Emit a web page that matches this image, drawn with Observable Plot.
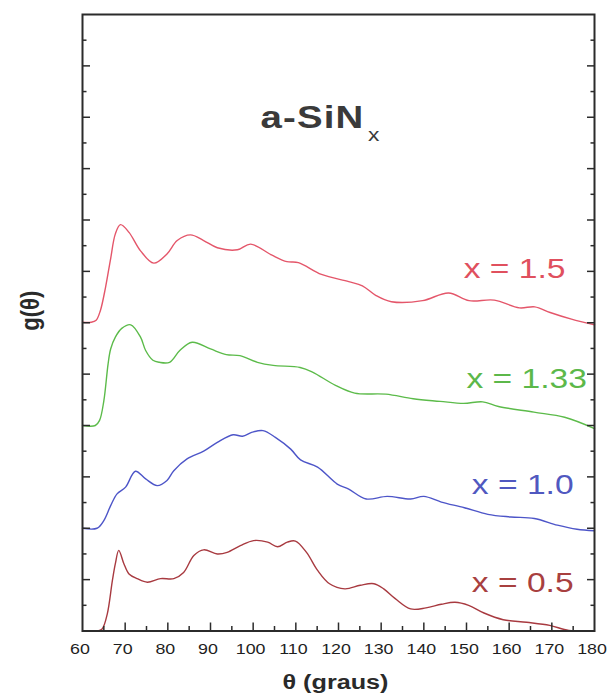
<!DOCTYPE html>
<html><head><meta charset="utf-8">
<script src="https://cdn.jsdelivr.net/npm/d3@7"></script>
<script src="https://cdn.jsdelivr.net/npm/@observablehq/plot@0.6"></script>
<style>
body{margin:0;background:#fff}
#chart svg{font-family:"Liberation Sans",Arial,Helvetica,sans-serif}
</style></head><body><div id="chart"></div>
<script>
// ---- data (stacked g(θ) curves, arbitrary units, each offset by its baseline) ----
const seriesNames = ["x = 1.5", "x = 1.33", "x = 1.0", "x = 0.5"];
const seriesColors = ["#e4566a", "#5cbb4a", "#4d55c8", "#a83a40"];
const labelColors  = ["#e0505e", "#5cb84a", "#5058c0", "#a8403f"];

const thetaRed = [60,62,63.2,64.2,65.4,66.6,67.7,68.9,70.9,73.6,76.7,79.8,82.2,85.3,88.4,91.6,96.3,99.4,104.3,107.9,110.6,116,122.4,125.6,128.8,132.4,139.7,145.8,150.6,156.5,162.4,166,169.6,174.6,180];
const gRed     = [6.01,6.01,6.05,6.24,6.69,7.25,7.73,7.91,7.76,7.40,7.16,7.34,7.60,7.71,7.60,7.46,7.42,7.53,7.32,7.19,7.17,6.94,6.80,6.72,6.53,6.41,6.43,6.58,6.43,6.44,6.29,6.31,6.20,6.07,5.96];

const thetaGreen = [60,63,64,65,66,66.6,67.7,69.2,71.3,73.6,74.8,76.5,78,80.4,82.8,85.7,90,93.7,96.9,101,104.7,111,113.9,119.3,123.8,131.1,137.5,143.8,149.3,153.8,157.5,165.8,173,180];
const gGreen     = [4.0,4.0,4.1,4.48,5.2,5.49,5.72,5.89,5.96,5.72,5.46,5.27,5.23,5.23,5.46,5.62,5.49,5.38,5.36,5.23,5.17,5.13,5.04,4.78,4.63,4.61,4.52,4.47,4.43,4.46,4.37,4.26,4.16,3.94];

const thetaBlue = [60,63.4,65,66.6,68.1,70.1,72.4,74.8,77.5,79.8,81.4,84.5,88.4,91.6,95.3,97.5,99.8,102.3,105.2,108.8,111.1,115.1,119.7,122.4,126.5,131.4,136.9,140,144.1,149.5,155,160.4,165.9,171.3,175.9,180];
const gBlue     = [2.0,2.0,2.15,2.44,2.67,2.80,3.11,2.96,2.83,2.93,3.12,3.35,3.50,3.67,3.82,3.79,3.87,3.90,3.77,3.54,3.33,3.19,2.86,2.76,2.57,2.62,2.57,2.62,2.51,2.40,2.27,2.22,2.19,2.06,1.98,1.95];

const thetaBrown = [60,63.4,64.6,65.8,67,67.7,68.5,69.7,70.9,72.8,75.2,78.3,81.4,83.7,86.1,88.4,91.6,93.9,97,100.1,103.4,105.7,108,109.9,112.5,115.1,117.9,121.5,125.1,128.3,130.6,133.3,136.9,140.5,144.1,147.3,150.5,154.1,158.6,164.1,169.5,174,180];
const gBrown     = [0,0,0.04,0.33,0.98,1.31,1.57,1.31,1.11,1.02,0.95,1.02,1.02,1.14,1.47,1.58,1.50,1.53,1.66,1.76,1.73,1.64,1.73,1.75,1.53,1.18,0.92,0.82,0.89,0.92,0.82,0.63,0.43,0.45,0.52,0.56,0.50,0.35,0.22,0.17,0.11,0.01,0];

// tick values
const xTickLabels = [60,70,80,90,100,110,120,130,140,150,160,170,180];
const xMajorTicks = [70,80,90,100,110,120,130,140,150,160,170];
const xMinorTicks = [65,75,85,95,105,115,125,135,145,155,165,175];
const yMajorTicks = [1,2,3,4,5,6,7,8,9,10,11];
const yMinorTicks = [0.5,1.5,2.5,3.5,4.5,5.5,6.5,7.5,8.5,9.5,10.5,11.5];

// annotation anchors (data coordinates)
const labelTheta = [173.2, 178.2, 175.1, 175.1];
const labelG     = [7.05, 4.91, 2.85, 0.93];
const titleMain = "a-SiN", titleSub = "x";
const titleTheta = 101.7, titleG = 9.99;
const subTheta = 126.9, subG = 9.66;

// ---- build tables ----
const thetas = [thetaRed, thetaGreen, thetaBlue, thetaBrown];
const gs = [gRed, gGreen, gBlue, gBrown];
const rows = [];
seriesNames.forEach((s, i) => thetas[i].forEach((t, j) => rows.push({series: s, theta: t, g: gs[i][j]})));
const labels = seriesNames.map((s, i) => ({text: s, theta: labelTheta[i], g: labelG[i], color: labelColors[i]}));

const axisColor = "#2b2b2b";
const plot = Plot.plot({
  width: 607, height: 696,
  marginLeft: 82, marginRight: 13, marginTop: 14, marginBottom: 65.5,
  x: {domain: [60, 180], axis: null},
  y: {domain: [0, 12], axis: null},
  style: {background: "#fff"},
  marks: [
    ...seriesNames.map((s, i) => Plot.line(rows.filter(d => d.series === s), {
      x: "theta", y: "g", stroke: seriesColors[i], strokeWidth: 1.4, curve: "catmull-rom"
    })),
    // inward ticks
    Plot.axisX(xMajorTicks, {anchor: "bottom", tickSize: 8, dy: -8, tickFormat: () => "", label: null, stroke: axisColor, strokeWidth: 1.5}),
    Plot.axisX(xMinorTicks, {anchor: "bottom", tickSize: 4.5, dy: -4.5, tickFormat: () => "", label: null, stroke: axisColor, strokeWidth: 1.5}),
    Plot.axisY(yMajorTicks, {anchor: "left", tickSize: 8, dx: 8, tickFormat: () => "", label: null, stroke: axisColor, strokeWidth: 1.5}),
    Plot.axisY(yMinorTicks, {anchor: "left", tickSize: 4.5, dx: 4.5, tickFormat: () => "", label: null, stroke: axisColor, strokeWidth: 1.5}),
    Plot.axisY(yMajorTicks, {anchor: "right", tickSize: 8, dx: -8, tickFormat: () => "", label: null, stroke: axisColor, strokeWidth: 1.5}),
    Plot.axisY(yMinorTicks, {anchor: "right", tickSize: 4.5, dx: -4.5, tickFormat: () => "", label: null, stroke: axisColor, strokeWidth: 1.5}),
    Plot.frame({stroke: axisColor, strokeWidth: 2}),
    // tick labels
    Plot.text(xTickLabels, {x: d => d, frameAnchor: "bottom", lineAnchor: "top", textAnchor: "middle", dy: 11.5, dx: -2.5, fontSize: 15.5, fill: "#1e1e1e"}),
    // axis titles
    Plot.text(["θ (graus)"], {frameAnchor: "bottom", lineAnchor: "middle", textAnchor: "middle", dy: 51.5, dx: -3, fontSize: 21, fontWeight: "bold", fill: "#2a2a2a"}),
    Plot.text(["g(θ)"], {frameAnchor: "left", rotate: -90, textAnchor: "middle", lineAnchor: "middle", dx: -52, dy: -12, fontSize: 22, fontWeight: "bold", fill: "#2a2a2a"}),
    // title
    Plot.text([titleMain], {x: () => titleTheta, y: () => titleG, textAnchor: "start", fontSize: 32, fontWeight: "bold", fill: "#3a3a3a"}),
    Plot.text([titleSub], {x: () => subTheta, y: () => subG, textAnchor: "start", fontSize: 19, fill: "#3a3a3a"}),
    // series labels
    Plot.text(labels, {x: "theta", y: "g", text: "text", fill: "color", textAnchor: "end", fontSize: 28})
  ]
});

// emulate the horizontally stretched lettering of the original
d3.select(plot).selectAll("text").each(function () {
  const t = this.textContent;
  if (!t) return;
  const tr = this.getAttribute("transform") || "";
  if (t === "g(θ)") this.setAttribute("transform", tr + " scale(1,1.2)");
  else if (/^\d+$/.test(t)) this.setAttribute("transform", tr + " scale(1.15,1)");
  else {
    this.setAttribute("transform", tr + " scale(1.2,1)");
    if (t === titleMain) this.style.letterSpacing = "1px";
  }
});
document.getElementById("chart").appendChild(plot);
</script>
</body></html>
